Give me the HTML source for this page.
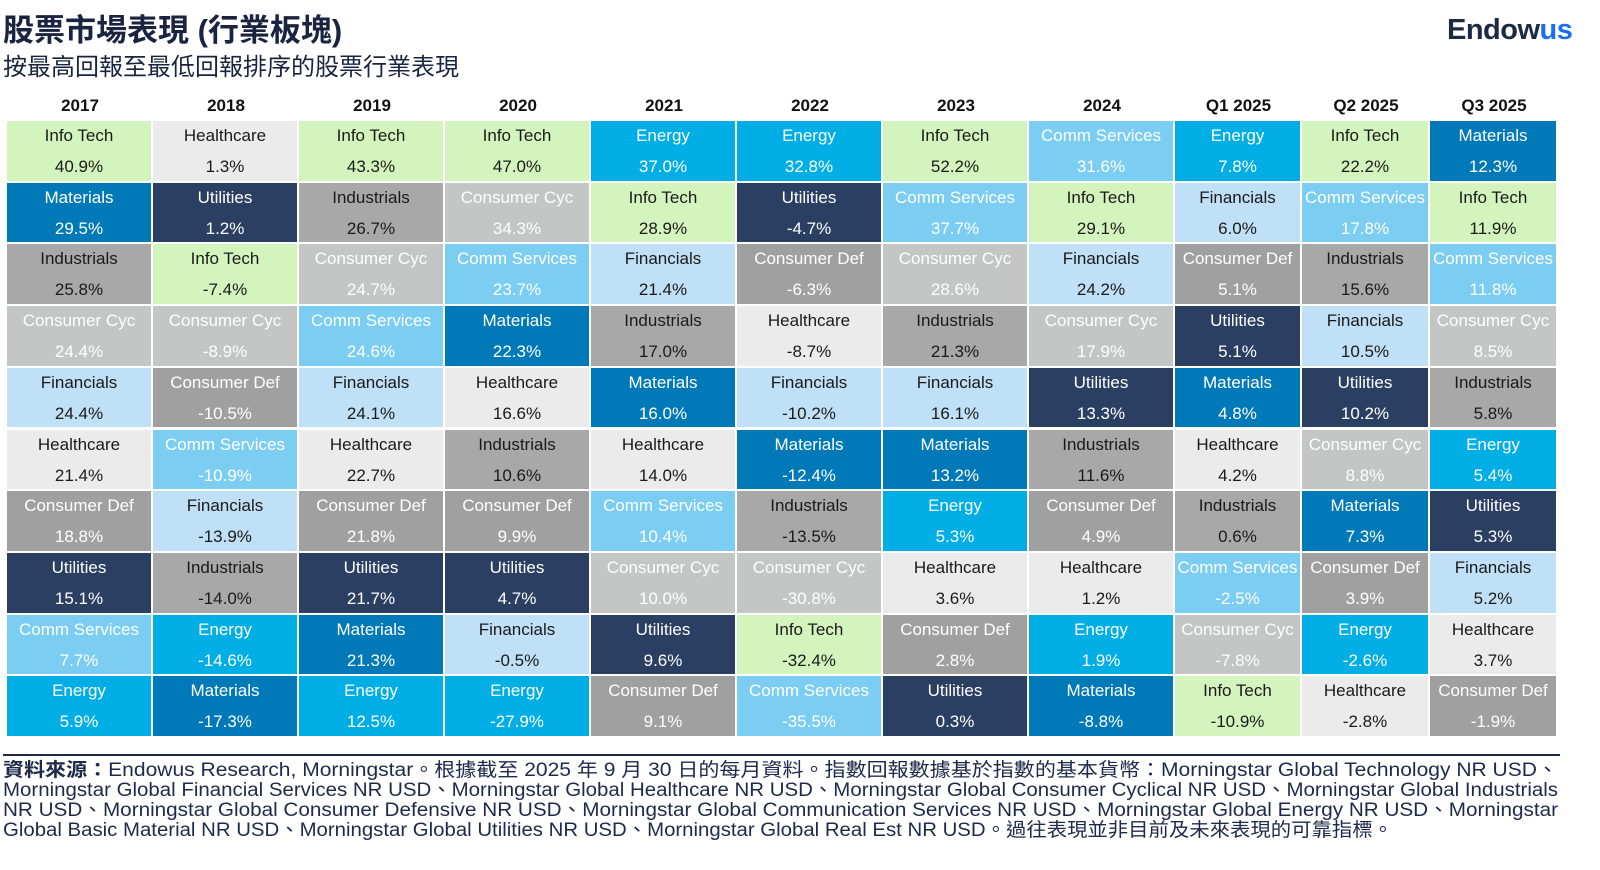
<!DOCTYPE html>
<html><head><meta charset="utf-8"><style>
body{margin:0;width:1600px;height:870px;background:#fff;position:relative;overflow:hidden;font-family:"Liberation Sans","Noto Sans CJK TC",sans-serif;}
.t{position:absolute;white-space:nowrap;}
.cell{position:absolute;box-sizing:border-box;text-align:center;font-size:17px;}
.cell span{position:absolute;left:0;right:0;}
.hdr{position:absolute;top:96px;text-align:center;font-weight:bold;font-size:17px;color:#111;}
</style></head><body>
<div class="t" style="left:3px;top:5px;font-size:31px;font-weight:bold;color:#1a2440;">股票市場表現 (行業板塊)</div>
<div class="t" style="left:3px;top:47px;font-size:24px;color:#1a2440;">按最高回報至最低回報排序的股票行業表現</div>
<div class="t" style="left:1447px;top:14px;font-size:29px;font-weight:bold;color:#1c2a45;letter-spacing:-0.5px;">Endow<span style="color:#1a6ff0">us</span></div>
<div id="grid"></div>
<div style="position:absolute;left:3px;top:754px;width:1557px;height:2px;background:#1e2a4a;"></div>
<svg style="position:absolute;left:0;top:756px" width="1600" height="114">
<g font-family="Liberation Sans,Noto Sans CJK TC,sans-serif" font-size="19" fill="#1e2a4a">
<text x="3" y="20" textLength="1555" lengthAdjust="spacingAndGlyphs"><tspan font-weight="bold">資料來源：</tspan>Endowus Research, Morningstar。根據截至 2025 年 9 月 30 日的每月資料。指數回報數據基於指數的基本貨幣：Morningstar Global Technology NR USD、</text>
<text x="3" y="40" textLength="1555" lengthAdjust="spacingAndGlyphs">Morningstar Global Financial Services NR USD、Morningstar Global Healthcare NR USD、Morningstar Global Consumer Cyclical NR USD、Morningstar Global Industrials</text>
<text x="3" y="60" textLength="1555" lengthAdjust="spacingAndGlyphs">NR USD、Morningstar Global Consumer Defensive NR USD、Morningstar Global Communication Services NR USD、Morningstar Global Energy NR USD、Morningstar</text>
<text x="3" y="80" textLength="1390" lengthAdjust="spacingAndGlyphs">Global Basic Material NR USD、Morningstar Global Utilities NR USD、Morningstar Global Real Est NR USD。過往表現並非目前及未來表現的可靠指標。</text>
</g></svg>
<script>
const periods=["2017","2018","2019","2020","2021","2022","2023","2024","Q1 2025","Q2 2025","Q3 2025"];
const sectors2017=["Info Tech","Materials","Industrials","Consumer Cyc","Financials","Healthcare","Consumer Def","Utilities","Comm Services","Energy"];
const values2017=[40.9,29.5,25.8,24.4,24.4,21.4,18.8,15.1,7.7,5.9];
const sectors2018=["Healthcare","Utilities","Info Tech","Consumer Cyc","Consumer Def","Comm Services","Financials","Industrials","Energy","Materials"];
const values2018=[1.3,1.2,-7.4,-8.9,-10.5,-10.9,-13.9,-14.0,-14.6,-17.3];
const sectors2019=["Info Tech","Industrials","Consumer Cyc","Comm Services","Financials","Healthcare","Consumer Def","Utilities","Materials","Energy"];
const values2019=[43.3,26.7,24.7,24.6,24.1,22.7,21.8,21.7,21.3,12.5];
const sectors2020=["Info Tech","Consumer Cyc","Comm Services","Materials","Healthcare","Industrials","Consumer Def","Utilities","Financials","Energy"];
const values2020=[47.0,34.3,23.7,22.3,16.6,10.6,9.9,4.7,-0.5,-27.9];
const sectors2021=["Energy","Info Tech","Financials","Industrials","Materials","Healthcare","Comm Services","Consumer Cyc","Utilities","Consumer Def"];
const values2021=[37.0,28.9,21.4,17.0,16.0,14.0,10.4,10.0,9.6,9.1];
const sectors2022=["Energy","Utilities","Consumer Def","Healthcare","Financials","Materials","Industrials","Consumer Cyc","Info Tech","Comm Services"];
const values2022=[32.8,-4.7,-6.3,-8.7,-10.2,-12.4,-13.5,-30.8,-32.4,-35.5];
const sectors2023=["Info Tech","Comm Services","Consumer Cyc","Industrials","Financials","Materials","Energy","Healthcare","Consumer Def","Utilities"];
const values2023=[52.2,37.7,28.6,21.3,16.1,13.2,5.3,3.6,2.8,0.3];
const sectors2024=["Comm Services","Info Tech","Financials","Consumer Cyc","Utilities","Industrials","Consumer Def","Healthcare","Energy","Materials"];
const values2024=[31.6,29.1,24.2,17.9,13.3,11.6,4.9,1.2,1.9,-8.8];
const sectorsQ1=["Energy","Financials","Consumer Def","Utilities","Materials","Healthcare","Industrials","Comm Services","Consumer Cyc","Info Tech"];
const valuesQ1=[7.8,6.0,5.1,5.1,4.8,4.2,0.6,-2.5,-7.8,-10.9];
const sectorsQ2=["Info Tech","Comm Services","Industrials","Financials","Utilities","Consumer Cyc","Materials","Consumer Def","Energy","Healthcare"];
const valuesQ2=[22.2,17.8,15.6,10.5,10.2,8.8,7.3,3.9,-2.6,-2.8];
const sectorsQ3=["Materials","Info Tech","Comm Services","Consumer Cyc","Industrials","Energy","Utilities","Financials","Healthcare","Consumer Def"];
const valuesQ3=[12.3,11.9,11.8,8.5,5.8,5.4,5.3,5.2,3.7,-1.9];
const allSectors=[sectors2017,sectors2018,sectors2019,sectors2020,sectors2021,sectors2022,sectors2023,sectors2024,sectorsQ1,sectorsQ2,sectorsQ3];
const allValues=[values2017,values2018,values2019,values2020,values2021,values2022,values2023,values2024,valuesQ1,valuesQ2,valuesQ3];
const style={"Info Tech":["#d3f4bd","#1a1a1a"],"Healthcare":["#ebebeb","#1a1a1a"],"Materials":["#0079b8","#fff"],"Utilities":["#2b3f63","#fff"],"Industrials":["#a9a8a9","#1a1a1a"],"Consumer Cyc":["#c4c5c5","#fff"],"Comm Services":["#7bcdf2","#fff"],"Energy":["#00aee6","#fff"],"Financials":["#bfe0f7","#1a1a1a"],"Consumer Def":["#a0a0a0","#fff"]};
const colEdges=[7,153,299,445,591,737,883,1029,1175,1302,1430,1558];
const rowTop=121,rowH=61.7;
const grid=document.getElementById('grid');
periods.forEach((p,c)=>{
  const x=colEdges[c],w=colEdges[c+1]-colEdges[c];
  const h=document.createElement('div');h.className='hdr';
  
  
  h.style.left=x+'px';h.style.width=w+'px';h.textContent=p;grid.appendChild(h);
  allSectors[c].forEach((s,r)=>{
    const v=allValues[c][r];
    const d=document.createElement('div');d.className='cell';
    
    
    const y=rowTop+r*rowH;
    d.style.left=x+'px';d.style.top=y+'px';d.style.width=(w-2)+'px';d.style.height=(rowH-2)+'px';
    d.style.background=style[s][0];d.style.color=style[s][1];
    d.innerHTML='<span style="top:5px">'+s+'</span><span style="top:36px">'+v.toFixed(1)+'%</span>';
    grid.appendChild(d);
  });
});
</script>
</body></html>
